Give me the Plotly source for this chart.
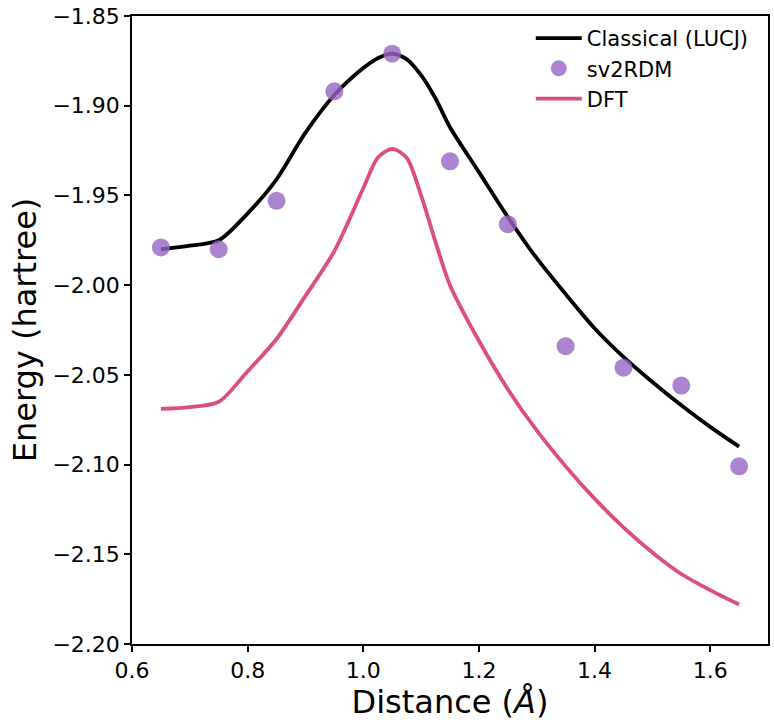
import plotly.graph_objects as go

# Data
classical_x = [0.65, 0.70, 0.75, 0.80, 0.85, 0.90, 0.95, 1.00, 1.025, 1.05, 1.075, 1.10,
               1.125, 1.15, 1.20, 1.25, 1.30, 1.35, 1.40, 1.45, 1.50, 1.55, 1.60, 1.65]
classical_y = [-1.980, -1.978, -1.975, -1.960, -1.941, -1.915, -1.894, -1.879, -1.8735, -1.871,
               -1.874, -1.883, -1.896, -1.912, -1.937, -1.962, -1.985, -2.005, -2.024, -2.040,
               -2.054, -2.067, -2.079, -2.090]

sv2rdm_x = [0.65, 0.75, 0.85, 0.95, 1.05, 1.15, 1.25, 1.35, 1.45, 1.55, 1.65]
sv2rdm_y = [-1.979, -1.980, -1.953, -1.892, -1.871, -1.931, -1.966, -2.034, -2.046, -2.056, -2.101]

dft_x = classical_x
dft_y = [-2.069, -2.068, -2.065, -2.048, -2.030, -2.006, -1.981, -1.946, -1.929, -1.924,
         -1.929, -1.950, -1.976, -2.000, -2.031, -2.058, -2.081, -2.101, -2.119, -2.135,
         -2.149, -2.161, -2.170, -2.178]

x_ticks = [0.6, 0.8, 1.0, 1.2, 1.4, 1.6]
y_ticks = [-1.85, -1.90, -1.95, -2.00, -2.05, -2.10, -2.15, -2.20]

FONT = "DejaVu Sans"

fig = go.Figure()
fig.add_trace(go.Scatter(x=classical_x, y=classical_y, mode="lines", name="Classical (LUCJ)",
                         line=dict(color="black", width=3.8, shape="spline", smoothing=0.8)))
fig.add_trace(go.Scatter(x=sv2rdm_x, y=sv2rdm_y, mode="markers", name="sv2RDM",
                         marker=dict(color="rgba(150,100,195,0.8)", size=18, line=dict(width=0))))
fig.add_trace(go.Scatter(x=dft_x, y=dft_y, mode="lines", name="DFT",
                         line=dict(color="#DB4F7A", width=3.8, shape="spline", smoothing=0.8)))

axis_common = dict(showgrid=False, zeroline=False, showline=True, linecolor="black", linewidth=1.5,
                   mirror=True, ticks="outside", ticklen=6, tickwidth=1.5, tickcolor="black",
                   tickfont=dict(family=FONT, size=22, color="black"))

fig.update_layout(
    width=774, height=725,
    margin=dict(l=132, r=4, t=13, b=81),
    paper_bgcolor="white", plot_bgcolor="white",
    font=dict(family=FONT, color="black"),
    xaxis=dict(range=[0.6, 1.7], tickvals=x_ticks, ticktext=[f"{v:.1f}" for v in x_ticks],
               title=dict(text="Distance (<i>Å</i>)", font=dict(family=FONT, size=32), standoff=2),
               **axis_common),
    yaxis=dict(range=[-2.2, -1.85], tickvals=y_ticks,
               ticktext=[f"\u2212{abs(v):.2f}" for v in y_ticks],
               title=dict(text="Energy (hartree)", font=dict(family=FONT, size=32), standoff=6),
               **axis_common),
    legend=dict(x=0.627, y=0.997, xanchor="left", yanchor="top", bgcolor="rgba(0,0,0,0)",
                font=dict(family=FONT, size=21, color="black"), tracegroupgap=0, itemwidth=46),
    showlegend=True,
)

fig.write_html("out.html")
